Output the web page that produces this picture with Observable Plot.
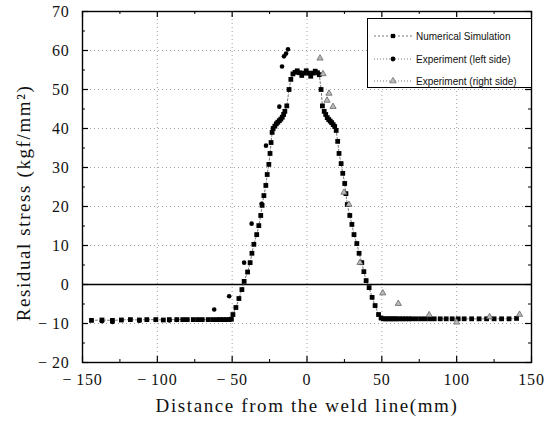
<!DOCTYPE html>
<html><head><meta charset="utf-8">
<script src="https://cdn.jsdelivr.net/npm/d3@7"></script>
<script src="https://cdn.jsdelivr.net/npm/@observablehq/plot@0.6"></script>
<style>
body{margin:0;background:#fff}
#wrap{position:relative;width:553px;height:423px;overflow:hidden}
#wrap svg [aria-label="x-axis label"] text,#wrap svg [aria-label="y-axis label"] text{font-size:19px;letter-spacing:1.6px}
#wrap svg [aria-label="x-axis tick label"] text,#wrap svg [aria-label="y-axis tick label"] text{letter-spacing:0.8px}
#legend{position:absolute;left:367px;top:18px;width:163px;height:68px;border:1px solid #000;border-right:none;background:#fff;font-family:"Liberation Sans",Arial,sans-serif;font-size:10px;color:#111}
#legend .item{position:absolute;left:5px;height:12px;display:flex;align-items:center}
#legend .item svg{margin-right:3px}
</style>
</head><body><div id="wrap"><div id="legend"></div></div>
<script>
// tick values
const xTicks = [-150,-100,-50,0,50,100,150];
const xMinor = [-125,-75,-25,25,75,125];
const yTicks = [-20,-10,0,10,20,30,40,50,60,70];
const yMinor = [-15,-5,5,15,25,35,45,55,65];

// Numerical simulation
const simX = [-144,-137,-130,-124,-118,-112,-107,-101,-96,-92,-87,-83,-80,-76,-73,-70,-66,-63,-60,-58,-56,-54,-52,-50.5,
  -49.5,-47.5,-45.5,-43.5,-42,-39.7,-38,-36.8,-35.5,-33.6,-32.2,-30.9,-30,-28.8,-27.5,-26.6,-25.5,-24.7,-24,-23.3,
  -22.6,-21.5,-20.5,-19.5,-18.5,-17.5,-16.5,-15.6,-14.8,-13.5,-12,-10.8,-9.4,-8,-6.5,-5,-3.5,-2,-0.5,1,2.5,4,5.5,7,8.2,
  9.4,10.3,11.5,12.5,13.5,14.5,15.5,16.5,17.5,18.5,19.5,20.5,21.4,22.8,23.9,25.2,26,26.9,28.6,30,31.4,33.3,34.8,36.6,38,39.5,41.5,43.5,45.5,47.8,
  49.5,51,52.5,54,55.5,57,58.5,60,62,64,66,68,70,73,76,79,82,85,89,93,97,101,105,110,115,120,125,130,135,140,145];
const simY = [-9.2,-9.1,-9.2,-9.1,-9,-9.1,-9,-9,-9.1,-9,-9,-9,-9,-9,-9,-9,-9,-9,-9,-9,-9,-9,-9,-8.9,
  -7.7,-5.9,-3.6,-1.3,0.8,3.2,5.6,8,10.3,12.8,15.1,17.7,20.3,22.8,25.4,28.2,30.8,33.6,36.4,39,
  40,40.6,41.2,41.6,42,42.4,42.9,43.6,44.4,45.8,50,52.6,54,54.4,54.8,54.3,53.6,54.2,54.8,54.2,53.4,54.2,54.7,54.3,53.8,
  50,45.8,44.4,43.6,42.8,42.3,41.9,41.5,41,40.5,39.5,36.7,33.6,31,28.5,25.9,23.3,20.5,17.7,15.4,12.8,10.5,8,5.6,3.3,1,-0.8,-3.3,-5.4,-7.7,
  -8.6,-8.8,-8.8,-8.8,-8.8,-8.8,-8.8,-8.8,-8.8,-8.8,-8.8,-8.8,-8.8,-8.8,-8.8,-8.8,-8.8,-8.8,-8.8,-8.8,-8.8,-8.8,-8.8,-8.8,-8.8,-8.8,-8.8,-8.8,-8.8,-8.7];

// Experiment (left side)
const leftX = [-137,-130,-112,-101,-92,-87,-62,-52,-42,-37,-30.3,-27.4,-18.5,-16.7,-15.4,-14,-12.7];
const leftY = [-9.4,-9.6,-9.3,-9.1,-9.2,-9.1,-6.4,-3,5.6,15.6,20.7,35.6,45.6,55.9,58.5,59.2,60.3];

// Experiment (right side)
const rightX = [8.7,10.7,13.4,14.7,17.4,24.7,28,35.4,50.6,61,81.6,100,122,142];
const rightY = [58,54,47.2,49,45.6,23.6,20.5,5.6,-2.2,-4.9,-7.8,-9.7,-8.3,-7.7];

const sim = simX.map((x,i)=>({x, y: simY[i]}));
const left = leftX.map((x,i)=>({x, y: leftY[i]}));
const right = rightX.map((x,i)=>({x, y: rightY[i]}));

const W=553, H=423, mL=82, mR=22, mT=11, mB=61;
const innerH = H-mT-mB, innerW = W-mL-mR;
const fmt = d => d < 0 ? "\u2212\u2009" + Math.abs(d) : String(d);
const grid = {stroke:"#999", strokeOpacity:1, strokeWidth:0.9, strokeDasharray:"1,3"};

const chart = Plot.plot({
  width: W, height: H, marginLeft: mL, marginRight: mR, marginTop: mT, marginBottom: mB,
  style: {fontFamily: '"Liberation Serif","Times New Roman",serif', fontSize: "16px", color: "#111", background: "white"},
  x: {domain: [-150, 150]},
  y: {domain: [-20, 70]},
  marks: [
    Plot.gridX(xTicks.slice(1,-1), grid),
    Plot.gridY(yTicks.slice(1,-1), grid),
    Plot.ruleY([0], {stroke:"#000", strokeWidth:1.7}),
    Plot.line(sim, {x:"x", y:"y", stroke:"#555", strokeWidth:0.8, strokeDasharray:"2,2"}),
    Plot.dot(sim, {x:"x", y:"y", symbol:"square", r:2.7, fill:"#000"}),
    Plot.dot(left, {x:"x", y:"y", symbol:"circle", r:2.3, fill:"#000"}),
    Plot.dot(right, {x:"x", y:"y", symbol:"triangle", r:2.3, fill:"#bbb", stroke:"#555", strokeWidth:0.7}),
    Plot.tickX(xTicks, {insetTop: innerH-6, stroke:"#000", strokeWidth:1.2}),
    Plot.tickX(xTicks, {insetBottom: innerH-6, stroke:"#000", strokeWidth:1.2}),
    Plot.tickX(xMinor, {insetTop: innerH-3, stroke:"#000"}),
    Plot.tickX(xMinor, {insetBottom: innerH-3, stroke:"#000"}),
    Plot.tickY(yTicks, {insetRight: innerW-6, stroke:"#000", strokeWidth:1.2}),
    Plot.tickY(yTicks, {insetLeft: innerW-6, stroke:"#000", strokeWidth:1.2}),
    Plot.tickY(yMinor, {insetRight: innerW-3, stroke:"#000"}),
    Plot.tickY(yMinor, {insetLeft: innerW-3, stroke:"#000"}),
    Plot.axisX(xTicks, {tickSize:0, tickPadding:11, tickFormat: fmt, label:"Distance from the weld line(mm)", labelAnchor:"center", labelArrow:"none", labelOffset:49}),
    Plot.axisY(yTicks, {tickSize:0, tickPadding:13, tickFormat: fmt, label:"Residual stress (kgf/mm\u00b2)", labelAnchor:"center", labelArrow:"none", labelOffset:66}),
    Plot.frame({stroke:"#000", strokeWidth:1.4})
  ]
});
// nudge the y-axis title slightly downward, as in the reference
d3.select(chart).selectAll('[aria-label="y-axis label"] text').attr("dx", -16);
document.getElementById("wrap").prepend(chart);

// legend
const legendItems = [
  {label:"Numerical Simulation", symbol:"square", fill:"#000", stroke:"none", dash:"2,2", top:11},
  {label:"Experiment (left side)", symbol:"circle", fill:"#000", stroke:"none", dash:"1,2", top:34},
  {label:"Experiment (right side)", symbol:"triangle", fill:"#bbb", stroke:"#555", dash:"1,2", top:56}
];
const symMap = {square: d3.symbolSquare, circle: d3.symbolCircle, triangle: d3.symbolTriangle};
const leg = d3.select("#legend");
for (const it of legendItems) {
  const row = leg.append("div").attr("class","item").style("top", it.top + "px");
  const s = row.append("svg").attr("width", 40).attr("height", 10);
  s.append("line").attr("x1",1).attr("x2",39).attr("y1",5).attr("y2",5).attr("stroke","#555").attr("stroke-width",0.8).attr("stroke-dasharray",it.dash);
  s.append("path").attr("transform","translate(20,5)").attr("d", d3.symbol(symMap[it.symbol], 18)()).attr("fill", it.fill).attr("stroke", it.stroke).attr("stroke-width",0.6);
  row.append("span").text(it.label);
}
</script>
</body></html>
